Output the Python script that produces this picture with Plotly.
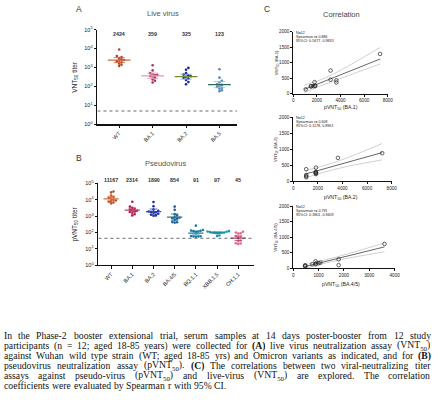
import math
import re
import numpy as np
import plotly.graph_objects as go

W, H = 440, 417

# ---------------- Data ----------------
live_cats = ["WT", "BA.1", "BA.2", "BA.5"]
live_gmt = [2424, 359, 325, 123]
live_ci_lo = [1800, 260, 240, 85]
live_ci_hi = [3300, 500, 440, 180]
live_wt = [8900, 4000, 3600, 3100, 2700, 2500, 2300, 2100, 1900, 1600, 1400, 1200]
live_ba1 = [1300, 700, 500, 450, 400, 380, 350, 320, 280, 230, 200, 160]
live_ba2 = [950, 750, 500, 420, 380, 340, 320, 290, 260, 220, 170, 130]
live_ba5 = [800, 290, 200, 160, 130, 120, 105, 95, 85, 75, 62, 55]
live_lod = 5

pseudo_cats = ["WT", "BA.1", "BA.2", "BA.4/5", "BQ.1.1", "XBB.1.5", "CH.1.1"]
pseudo_gmt = [11167, 2314, 1890, 854, 91, 97, 45]
pseudo_ci_lo = [8500, 1700, 1300, 550, 70, 85, 32]
pseudo_ci_hi = [15000, 3100, 2700, 1350, 120, 110, 62]
pseudo_wt = [32000, 28000, 18000, 15000, 13000, 12000, 10000, 9000, 8500, 7500, 6800, 6000]
pseudo_ba1 = [7500, 3800, 3200, 2800, 2500, 2300, 2100, 2000, 1800, 1600, 1300, 1100]
pseudo_ba2 = [7200, 4000, 2500, 2100, 1900, 1800, 1700, 1600, 1400, 1200, 1100, 1050]
pseudo_ba45 = [3800, 2400, 1300, 1100, 850, 750, 800, 700, 600, 430, 420, 400]
pseudo_bq11 = [260, 140, 130, 125, 120, 115, 110, 60, 58, 57, 56, 55]
pseudo_xbb15 = [120, 115, 110, 105, 100, 100, 98, 95, 92, 90, 65, 60]
pseudo_ch11 = [110, 100, 90, 85, 60, 55, 50, 32, 30, 22, 21, 20]
pseudo_lod = 44

# Correlation panels (pVNT50, VNT50)
c1_x = [7350, 3160, 3160, 3650, 3650, 1800, 1500, 1700, 1850, 1850, 1050, 1500]
c1_y = [1280, 745, 450, 430, 360, 370, 245, 245, 245, 260, 140, 230]
c1_fit_x = [923, 7357]
c1_fit_y = [138, 1117]
c1_band_x = [923, 3000, 7357]
c1_band_hi = [266, 560, 1489]
c1_band_lo = [40, 350, 957]
c1_text = ["N=12", "Spearman r= 0.886", "95%CI: 0.5677, 0.9833"]

c2_x = [7230, 3630, 1840, 1840, 1840, 1840, 1050, 1050, 1050, 1840, 1050, 1840]
c2_y = [880, 735, 430, 300, 270, 230, 380, 200, 130, 250, 160, 280]
c2_fit_x = [1000, 7230]
c2_fit_y = [230, 900]
c2_band_x = [1000, 3500, 7230]
c2_band_hi = [340, 610, 1184]
c2_band_lo = [110, 390, 673]
c2_text = ["N=12", "Spearman r= 0.608", "95%CI: 0.1178, 0.8963"]

c3_x = [3600, 1790, 1790, 1070, 880, 880, 750, 470, 470, 470, 900, 1000]
c3_y = [780, 285, 95, 180, 220, 125, 125, 95, 55, 70, 150, 160]
c3_fit_x = [466, 3599]
c3_fit_y = [53, 684]
c3_band_x = [466, 1800, 3599]
c3_band_hi = [110, 380, 810]
c3_band_lo = [0, 260, 526]
c3_text = ["N=12", "Spearman r= 0.791", "95%CI: 0.3801, 0.9409"]

caption_lines = [
    "In the Phase-2 booster extensional trial, serum samples at 14 days poster-booster from 12 study",
    "participants (n = 12; aged 18-85 years) were collected for <b>(A)</b> live virus neutralization assay (VNT<sub>50</sub>)",
    "against Wuhan wild type strain (WT; aged 18-85 yrs) and Omicron variants as indicated, and for <b>(B)</b>",
    "pseudovirus neutralization assay (pVNT<sub>50</sub>). <b>(C)</b> The correlations between two viral-neutralizing titer",
    "assays against pseudo-virus (pVNT<sub>50</sub>) and live-virus (VNT<sub>50</sub>) are explored. The correlation",
    "coefficients were evaluated by Spearman r with 95% CI.",
]

# ---------------- Styles ----------------
SANS = "Liberation Sans, Arial, sans-serif"
SERIF = "Liberation Serif, Times New Roman, serif"

live_pt_colors = ["#b3452c", "#b1305c", "#1c1f9a", "#4f86bd"]
live_line_colors = ["#c8683c", "#e39ab2", "#6f8f2a", "#2f6e55"]
live_err_colors = ["#c8683c", "#e39ab2", "#7fa6d8", "#8fb6e0"]
pseudo_pt_colors = ["#c0502c", "#b2204e", "#1d2ba3", "#1f5b9c", "#1a7ea2", "#1a97b3", "#e2698f"]
pseudo_line_colors = ["#d0743e", "#c0406a", "#2f46b8", "#2a7a90", "#1f7f9f", "#1c8fa8", "#c04670"]


def px_x(p):
    return p / W


def px_y(p):
    return 1 - p / H


def swarm(vals, px_per_unit, px_per_dec, step=2.4):
    order = np.argsort(vals)
    placed = []
    offs = [0.0] * len(vals)
    cands = [0.0]
    for j in range(1, 12):
        cands += [j * step, -j * step]
    for idx in order:
        yp = math.log10(vals[idx]) * px_per_dec
        chosen = cands[-1]
        for c in cands:
            if all((c - a) ** 2 + (yp - b) ** 2 >= (step * 0.98) ** 2 for a, b in placed):
                chosen = c
                break
        placed.append((chosen, yp))
        offs[idx] = chosen / px_per_unit
    return offs


fig = go.Figure()


def add_dot_panel(groups, gmt, lo, hi, pt_cols, line_cols, err_cols, xa, ya, ppu, ppd, hw, cw, lod, xr):
    for i, vals in enumerate(groups):
        offs = swarm(vals, ppu, ppd)
        fig.add_trace(go.Scatter(
            x=[i + o for o in offs], y=vals, mode="markers",
            marker=dict(size=2.6, color=pt_cols[i], line=dict(width=0)),
            xaxis=xa, yaxis=ya, showlegend=False, hoverinfo="skip"))
        fig.add_trace(go.Scatter(
            x=[i, i, None, i - cw, i + cw, None, i - cw, i + cw],
            y=[lo[i], hi[i], None, lo[i], lo[i], None, hi[i], hi[i]],
            mode="lines", line=dict(color=err_cols[i], width=0.8),
            xaxis=xa, yaxis=ya, showlegend=False, hoverinfo="skip"))
        fig.add_trace(go.Scatter(
            x=[i - hw, i + hw], y=[gmt[i], gmt[i]], mode="lines",
            line=dict(color=line_cols[i], width=1.2),
            xaxis=xa, yaxis=ya, showlegend=False, hoverinfo="skip"))
    fig.add_trace(go.Scatter(
        x=[xr[0], xr[1]], y=[lod, lod], mode="lines",
        line=dict(color="#444444", width=0.8, dash="dot"),
        xaxis=xa, yaxis=ya, showlegend=False, hoverinfo="skip"))


A_xr = [-0.65, 3.53]
add_dot_panel([live_wt, live_ba1, live_ba2, live_ba5], live_gmt, live_ci_lo, live_ci_hi,
              live_pt_colors, live_line_colors, live_err_colors, "x", "y",
              34.0, 19.2, 0.34, 0.17, live_lod, A_xr)
B_xr = [-0.6, 6.74]
add_dot_panel([pseudo_wt, pseudo_ba1, pseudo_ba2, pseudo_ba45, pseudo_bq11, pseudo_xbb15, pseudo_ch11],
              pseudo_gmt, pseudo_ci_lo, pseudo_ci_hi,
              pseudo_pt_colors, pseudo_line_colors, pseudo_line_colors, "x2", "y2",
              21.5, 16.6, 0.36, 0.18, pseudo_lod, B_xr)


def add_corr(xs, ys, fx, fy, bx, bhi, blo, xa, ya):
    for band in (bhi, blo):
        fig.add_trace(go.Scatter(x=bx, y=band, mode="lines",
                                 line=dict(color="#c4c4c4", width=0.8, shape="spline"),
                                 xaxis=xa, yaxis=ya, showlegend=False, hoverinfo="skip"))
    fig.add_trace(go.Scatter(x=fx, y=fy, mode="lines", line=dict(color="#555555", width=0.9),
                             xaxis=xa, yaxis=ya, showlegend=False, hoverinfo="skip"))
    fig.add_trace(go.Scatter(x=xs, y=ys, mode="markers",
                             marker=dict(symbol="circle-open", size=3.6, color="#222222", line=dict(width=0.7)),
                             xaxis=xa, yaxis=ya, showlegend=False, hoverinfo="skip", cliponaxis=False))


add_corr(c1_x, c1_y, c1_fit_x, c1_fit_y, c1_band_x, c1_band_hi, c1_band_lo, "x3", "y3")
add_corr(c2_x, c2_y, c2_fit_x, c2_fit_y, c2_band_x, c2_band_hi, c2_band_lo, "x4", "y4")
add_corr(c3_x, c3_y, c3_fit_x, c3_fit_y, c3_band_x, c3_band_hi, c3_band_lo, "x5", "y5")

axis_common = dict(showline=True, linecolor="#111111", linewidth=1.3, ticks="outside", ticklen=2.5,
                   tickwidth=1, tickcolor="#111111", showgrid=False, zeroline=False, fixedrange=True)
logticks = [1, 10, 100, 1000, 10000, 100000]
logtext = ["10<sup>%d</sup>" % k for k in range(6)]

layout_axes = dict(
    xaxis=dict(axis_common, domain=[px_x(98), px_x(240)], range=A_xr, anchor="y",
               tickvals=list(range(len(live_cats))), ticktext=live_cats, tickangle=-45,
               tickfont=dict(size=5.5, family=SANS, color="#222")),
    yaxis=dict(axis_common, domain=[px_y(123), px_y(27)], type="log", range=[0, 5], anchor="x",
               tickvals=logticks, ticktext=logtext, tickfont=dict(size=5.5, family=SANS, color="#222")),
    xaxis2=dict(axis_common, domain=[px_x(99), px_x(257)], range=B_xr, anchor="y2",
                tickvals=list(range(len(pseudo_cats))), ticktext=pseudo_cats, tickangle=-45,
                tickfont=dict(size=5.5, family=SANS, color="#222")),
    yaxis2=dict(axis_common, domain=[px_y(266), px_y(183)], type="log", range=[0, 5], anchor="x2",
                tickvals=logticks, ticktext=logtext, tickfont=dict(size=5.5, family=SANS, color="#222")),
)

corr_axes = [
    ("x3", "y3", 297, 393, 29, 92, [0, 2000, 4000, 6000, 8000], [0, 8000]),
    ("x4", "y4", 297, 397, 116, 181, [0, 2000, 4000, 6000, 8000], [0, 8000]),
    ("x5", "y5", 297, 400, 206, 269, [0, 1000, 2000, 3000, 4000], [0, 4000]),
]
for xa, ya, x0, x1, y0, y1, xt, xr in corr_axes:
    xn = "xaxis" + xa[1:]
    yn = "yaxis" + ya[1:]
    layout_axes[xn] = dict(axis_common, domain=[px_x(x0), px_x(x1)], range=xr, anchor=ya,
                           tickvals=xt, linewidth=1.0, ticklen=2,
                           tickfont=dict(size=4.6, family=SANS, color="#222"))
    layout_axes[yn] = dict(axis_common, domain=[px_y(y1), px_y(y0)], range=[0, 2000], anchor=xa,
                           tickvals=[0, 500, 1000, 1500, 2000], linewidth=1.0, ticklen=2,
                           tickfont=dict(size=4.6, family=SANS, color="#222"))

ann = []


def text_px(x, y, t, size, color="#222", family=SANS, xanchor="center", yanchor="middle", angle=0,
            height=None):
    a = dict(x=px_x(x), y=px_y(y), xref="paper", yref="paper", text=t, showarrow=False,
             font=dict(size=size, color=color, family=family), xanchor=xanchor, yanchor=yanchor,
             textangle=angle, borderpad=0, borderwidth=0)
    if height is not None:
        a["height"] = height
    ann.append(a)


text_px(79, 6, "A", 8.5, "#333")
text_px(165, 11, "Live virus", 7.5, "#555")
text_px(79, 157, "B", 8.5, "#333")
text_px(168, 163, "Pseudovirus", 7.5, "#555")
text_px(270, 6, "C", 8.5, "#333")
text_px(346, 12, "Correlation", 7.5, "#444")
text_px(75, 75, "VNT<sub>50</sub> titer", 6.5, "#222", angle=-90)
text_px(75, 224, "pVNT<sub>50</sub> titer", 6.5, "#222", angle=-90)

for i, g in enumerate(live_gmt):
    ann.append(dict(x=i, y=px_y(28), xref="x", yref="paper", text="<b>%d</b>" % g, showarrow=False,
                    font=dict(size=5.3, color="#333", family=SANS), borderpad=0, borderwidth=0))
for i, g in enumerate(pseudo_gmt):
    ann.append(dict(x=i, y=px_y(180), xref="x2", yref="paper", text="<b>%d</b>" % g, showarrow=False,
                    font=dict(size=5.3, color="#333", family=SANS), borderpad=0, borderwidth=0))

corr_labels = [("BA.1", 29, 92, 106, c1_text, [31, 35.5, 39.5]),
               ("BA.2", 116, 181, 197, c2_text, [117, 121.5, 125.5]),
               ("BA.4/5", 206, 269, 286, c3_text, [207.5, 212, 216])]
for name, y0, y1, ylab, txt, ys in corr_labels:
    text_px(346, ylab, "pVNT<sub>50</sub> (%s)" % name, 5.2, "#222")
    text_px(280, (y0 + y1) / 2, "VNT<sub>50</sub> (%s)" % name, 4.2, "#333", angle=-90)
    for t, yy in zip(txt, ys):
        text_px(299.5, yy, t, 3.7, "#222", xanchor="left", height=4.5)

TR = {' ': 250, 'a': 444, 'b': 500, 'c': 444, 'd': 500, 'e': 444, 'f': 333, 'g': 500, 'h': 500, 'i': 278,
      'j': 278, 'k': 500, 'l': 278, 'm': 778, 'n': 500, 'o': 500, 'p': 500, 'q': 500, 'r': 333, 's': 389,
      't': 278, 'u': 500, 'v': 500, 'w': 722, 'x': 500, 'y': 500, 'z': 444,
      'A': 722, 'B': 667, 'C': 667, 'D': 722, 'E': 611, 'F': 556, 'G': 722, 'H': 722, 'I': 333, 'J': 389,
      'K': 722, 'L': 611, 'M': 889, 'N': 722, 'O': 722, 'P': 556, 'Q': 722, 'R': 667, 'S': 556, 'T': 611,
      'U': 722, 'V': 722, 'W': 944, 'X': 722, 'Y': 722, 'Z': 611,
      ',': 250, '.': 250, ';': 278, ':': 278, '-': 333, '(': 333, ')': 333, '=': 564, '%': 833}
TB = dict(TR)
TB.update({'(': 333, ')': 333, 'A': 722, 'B': 667, 'C': 722})


def html_width(h, fs):
    w = 0.0
    bold = False
    sub = False
    for part in re.split(r'(<[^>]+>)', h):
        if part.startswith('<'):
            closing = part.startswith('</')
            tag = part.strip('<>/').lower()
            if tag == 'b':
                bold = not closing
            elif tag == 'sub':
                sub = not closing
            continue
        f = fs * (0.75 if sub else 1.0)
        tab = TB if bold else TR
        for ch in part:
            w += tab.get(ch, 500) / 1000.0 * f
    return w


CAP_FS = 9.7
left, right = 3.0, 437.0
for li, line in enumerate(caption_lines):
    yy = 337 + li * 10.25
    words = line.split(' ')
    widths = [html_width(wd, 10.0) for wd in words]
    if li < len(caption_lines) - 1:
        gap = (right - left - sum(widths)) / (len(words) - 1)
    else:
        gap = TR[' '] / 1000.0 * 10.0
    x = left
    for wd, wdt in zip(words, widths):
        text_px(x, yy, wd, CAP_FS, "#111", family=SERIF, xanchor="left", height=11)
        x += wdt + gap

fig.update_layout(
    width=W, height=H, margin=dict(l=0, r=0, t=0, b=0),
    paper_bgcolor="white", plot_bgcolor="white", showlegend=False,
    annotations=ann, **layout_axes)

fig.write_html("out.html", config={"displayModeBar": False, "staticPlot": True},
               post_script="document.body.style.margin='0';document.body.style.overflow='hidden';")
